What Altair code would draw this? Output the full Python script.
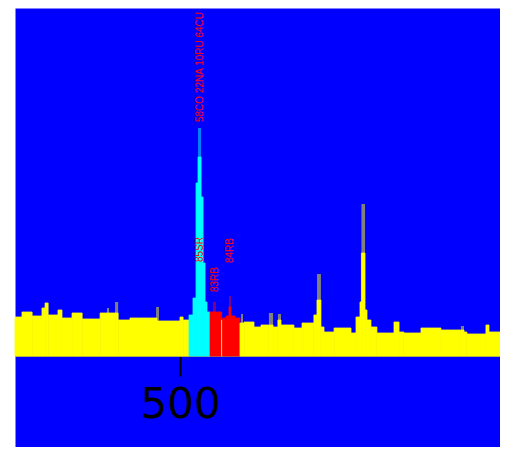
import altair as alt
import pandas as pd

# bin edges (keV) of the merged spectrum bins
edges = [408.3, 412.2, 417.8, 423.3, 425.0, 426.7, 432.2, 434.4, 440.0, 445.6, 455.6,
         463.9, 465.6, 472.2, 487.2, 500.0, 501.7, 505.0,
         507.2, 508.9, 510.0, 511.7, 512.8, 513.9, 515.0, 516.7,
         523.1, 523.6,
         525.6, 527.2, 528.3, 530.6, 533.3,
         535.6, 541.1, 545.0, 549.4, 551.7, 554.4, 556.1, 563.3, 567.8, 574.4, 576.1,
         578.3, 580.0, 585.6, 595.0, 597.8, 600.0, 600.8, 602.8, 603.9, 606.1, 609.4,
         618.9, 621.7, 624.4, 633.9, 645.0, 656.1, 657.8, 659.4, 670.0, 671.7, 681.7]

counts = [39, 44, 40, 48, 53, 41, 46, 38, 43, 37, 43, 43, 36, 38, 35, 39, 36,
          41, 58, 173, 199, 159, 93, 54, 44,
          44,
          36,
          38, 40, 49, 40, 38,
          33, 34, 29, 31, 31, 29, 36, 31, 28, 33, 41, 56, 29, 24, 28, 23, 39, 54,
          103, 46, 36, 29, 23, 34, 24, 23, 28, 26, 26, 24, 22, 31, 24]

groups = ["bg"] * 17 + ["511"] * 8 + ["rb"] + ["bg"] + ["rb"] * 5 + ["bg"] * 33

# maximum envelope spikes
spike_start = [459.4, 463.9, 486.7, 510.0, 518.3, 527.2, 533.9, 549.4, 554.4, 576.1, 600.8, 656.1]
spike_end = [460.6, 465.6, 488.3, 511.7, 520.0, 528.3, 535.0, 551.7, 556.1, 578.3, 602.8, 657.8]
spike_count = [48, 54, 49, 228, 54, 60, 42, 43, 42, 82, 152, 30]
spike_group = ["bg", "bg", "bg", "511", "rb", "rb", "bg", "bg", "bg", "bg", "bg", "bg"]

# peak labels
label_text = ["58CO 22NA 10RU 64CU", "85SR", "83RB", "84RB"]
label_x = [511.1, 511.1, 519.4, 527.8]
label_y = [234, 94, 64, 93]

tick_values = [500]

bars_df = pd.DataFrame({"start": edges[:-1], "end": edges[1:], "count": counts, "group": groups})
spikes_df = pd.DataFrame({"start": spike_start, "end": spike_end, "count": spike_count, "group": spike_group})
labels_df = pd.DataFrame({"start": label_x, "count": label_y, "text": label_text})

xscale = alt.Scale(domain=[408.3, 677.8], nice=False, zero=False)
yscale = alt.Scale(domain=[-91, 348], nice=False, zero=False)
xaxis = alt.Axis(values=tick_values, offset=-91, tickSize=20, tickWidth=2, tickColor="black",
                 labelFontSize=42, labelFont="DejaVu Sans", labelColor="black", labelPadding=8,
                 labelFlush=False, domainColor="#808080", domainWidth=1, grid=False, title=None,
                 format="d")
color = alt.Color("group:N", scale=alt.Scale(domain=["bg", "511", "rb"],
                                             range=["#ffff00", "#00ffff", "#ff0000"]), legend=None)
stroke = alt.Stroke("group:N", scale=alt.Scale(domain=["bg", "511", "rb"],
                                               range=["#ffff00", "#00ffff", "#ff0000"]), legend=None)

spikes = alt.Chart(spikes_df).mark_bar(opacity=0.5).encode(
    x=alt.X("start:Q", scale=xscale, axis=xaxis),
    x2="end:Q",
    y=alt.Y("count:Q", scale=yscale, axis=None),
    y2=alt.datum(0),
    color=color,
)

bars = alt.Chart(bars_df).mark_bar(strokeWidth=0.8).encode(
    x=alt.X("start:Q", scale=xscale, axis=xaxis),
    x2="end:Q",
    y=alt.Y("count:Q", scale=yscale, axis=None),
    y2=alt.datum(0),
    color=color,
    stroke=stroke,
)

labels = alt.Chart(labels_df).mark_text(
    angle=270, align="left", baseline="middle", color="#ff0000",
    font="Liberation Sans", fontSize=10
).encode(
    x=alt.X("start:Q", scale=xscale, axis=xaxis),
    y=alt.Y("count:Q", scale=yscale, axis=None),
    text="text:N",
)

chart = alt.layer(spikes, bars, labels).properties(
    width=485, height=439,
    padding={"left": 7, "top": 0, "right": 0, "bottom": 0},
    autosize=alt.AutoSizeParams(type="none"),
    background="white",
).configure_view(fill="#0000ff", stroke="transparent")

chart.save("out.html", embed_options={"renderer": "svg", "actions": False})
